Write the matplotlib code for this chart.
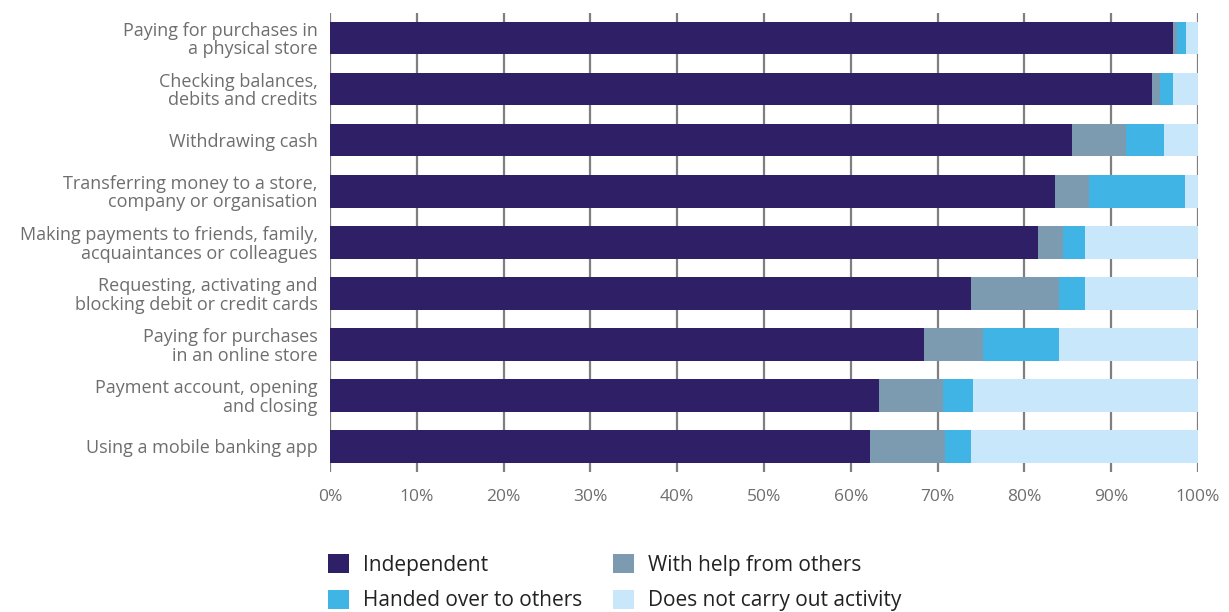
import matplotlib.pyplot as plt
from matplotlib.patches import Patch
from matplotlib.ticker import PercentFormatter

plt.rcParams['font.family'] = ['Open Sans', 'DejaVu Sans']

activities = [
    "Paying for purchases in\na physical store",
    "Checking balances,\ndebits and credits",
    "Withdrawing cash",
    "Transferring money to a store,\ncompany or organisation",
    "Making payments to friends, family,\nacquaintances or colleagues",
    "Requesting, activating and\nblocking debit or credit cards",
    "Paying for purchases\nin an online store",
    "Payment account, opening\nand closing",
    "Using a mobile banking app",
]

# share of respondents per activity (%)
independent = [97.1, 94.7, 85.5, 83.5, 81.6, 73.8, 68.4, 63.2, 62.2]
with_help = [0.5, 0.9, 6.2, 3.9, 2.8, 10.2, 6.8, 7.4, 8.7]
handed_over = [1.0, 1.5, 4.4, 11.1, 2.6, 3.0, 8.8, 3.5, 2.9]
not_carried = [1.4, 2.9, 3.9, 1.5, 13.0, 13.0, 16.0, 25.9, 26.2]

series = [
    ("Independent", independent, "#2e1f66"),
    ("With help from others", with_help, "#7d9bb0"),
    ("Handed over to others", handed_over, "#41b4e6"),
    ("Does not carry out activity", not_carried, "#c9e7fb"),
]

fig = plt.figure(figsize=(12.29, 6.12), dpi=100)
ax = fig.add_axes([330 / 1229, 1 - 472 / 612, 868 / 1229, 459.5 / 612])

y = list(range(len(activities)))
left = [0.0] * len(activities)
for name, vals, color in series:
    ax.barh(y, vals, left=left, height=0.64, color=color, label=name, zorder=3)
    left = [a + b for a, b in zip(left, vals)]

ax.set_xlim(0, 100)
ax.set_ylim(len(activities) - 0.5, -0.5)
ax.set_xticks(range(0, 101, 10))
ax.xaxis.set_major_formatter(PercentFormatter(decimals=0))
ax.set_yticks(y)
ax.set_yticklabels(activities, linespacing=1.02)

ax.grid(axis='x', color='#7f7f7f', linewidth=1.6, zorder=0)
ax.grid(axis='y', visible=False)
for s in ax.spines.values():
    s.set_visible(False)
ax.tick_params(axis='both', length=0, labelsize=12.5, labelcolor='#6e6e6e')
ax.tick_params(axis='y', labelsize=13, pad=9)
ax.tick_params(axis='x', pad=12)

# legend: two columns, filled column-wise
order = [0, 2, 1, 3]
handles = [Patch(facecolor=series[i][2], label=series[i][0]) for i in order]
fig.legend(handles=handles, ncol=2, frameon=False, loc='upper left',
           bbox_to_anchor=(320 / 1229, 1 - 546 / 612), fontsize=15,
           handlelength=1.0, handleheight=1.0, handletextpad=0.65,
           columnspacing=1.5, labelspacing=0.68, borderaxespad=0,
           labelcolor='#222222')

fig.savefig("out.png", dpi=100)
